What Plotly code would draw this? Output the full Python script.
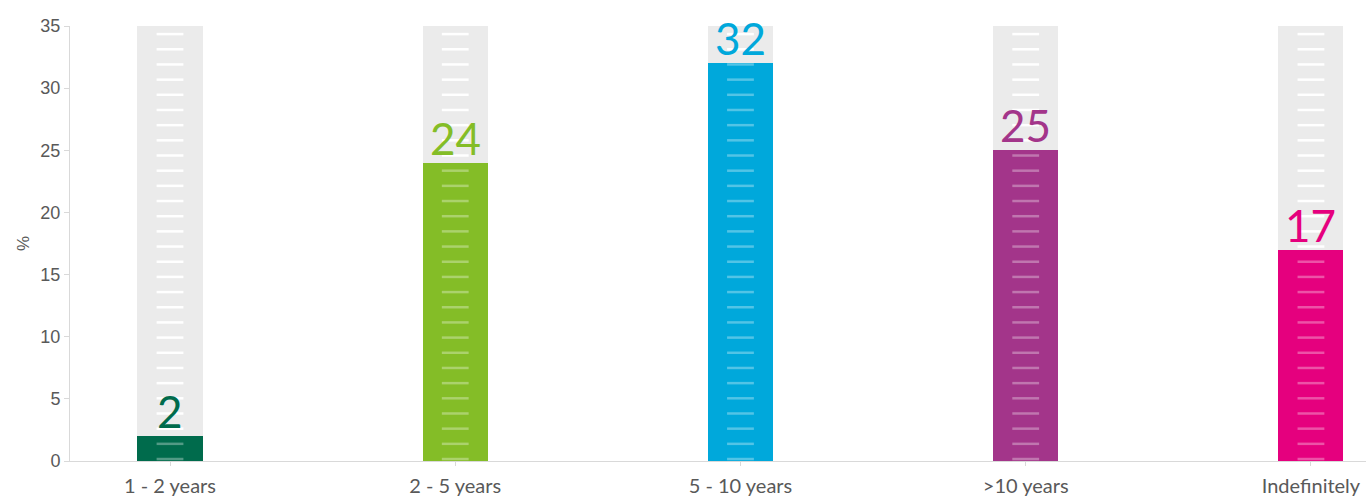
import plotly.graph_objects as go

# Share of respondents by expected duration
categories = ["1 - 2 years", "2 - 5 years", "5 - 10 years", ">10 years", "Indefinitely"]
values = [2, 24, 32, 25, 17]
colors = ["#006B4C", "#84BD27", "#00A8DB", "#A3358A", "#E5007E"]
y_ticks = [0, 5, 10, 15, 20, 25, 30, 35]
y_max = 35

# ruler-style tick marks drawn down each column
dash_start = 0.16
dash_step = 1.221
dash_count = 29
dash_half = 0.047
bar_width = 0.228

xs = list(range(len(categories)))
fig = go.Figure()

# grey column behind every bar, full scale height
fig.add_trace(go.Bar(
    x=xs, y=[y_max] * len(xs), width=bar_width,
    marker=dict(color="#EBEBEB", line=dict(width=0)),
    hoverinfo="skip", showlegend=False,
))
# coloured value bars
fig.add_trace(go.Bar(
    x=xs, y=values, width=bar_width,
    marker=dict(color=colors, line=dict(width=0)),
    showlegend=False,
))

levels = [dash_start + k * dash_step for k in range(dash_count)]
for i, v in enumerate(values):
    for above in (True, False):
        lx, ly = [], []
        for lv in levels:
            if (lv > v) == above:
                lx += [i - dash_half, i + dash_half, None]
                ly += [lv, lv, None]
        fig.add_trace(go.Scatter(
            x=lx, y=ly, mode="lines",
            line=dict(color="#FFFFFF" if above else "rgba(255,255,255,0.32)", width=2.5),
            hoverinfo="skip", showlegend=False,
        ))

for i, v in enumerate(values):
    fig.add_annotation(
        x=i, y=v, text=str(v), showarrow=False,
        yanchor="bottom", yshift=-3,
        font=dict(family="Lato, sans-serif", size=44, color=colors[i]),
    )

fig.update_layout(
    width=1366, height=498,
    margin=dict(l=70, r=0, t=26, b=37),
    paper_bgcolor="white", plot_bgcolor="white",
    barmode="overlay", bargap=0,
    xaxis=dict(
        range=[-0.3506, 4.193], tickmode="array", tickvals=xs, ticktext=categories,
        showgrid=False, zeroline=False,
        showline=True, linecolor="#D9D9D9", linewidth=1,
        ticks="outside", ticklen=4, tickcolor="#D9D9D9",
        ticklabelstandoff=3,
        tickfont=dict(family="Lato, sans-serif", size=20, color="#595959"),
    ),
    yaxis=dict(
        range=[0, y_max], tickmode="array", tickvals=y_ticks,
        showgrid=False, zeroline=False,
        showline=True, linecolor="#D9D9D9", linewidth=1,
        ticks="outside", ticklen=5, tickcolor="#D9D9D9",
        tickfont=dict(family="Liberation Sans, Arial, sans-serif", size=18, color="#595959"),
        title=dict(text="%", font=dict(family="Liberation Sans, sans-serif", size=17, color="#595959"), standoff=6),
    ),
)

fig.write_html("out.html")
